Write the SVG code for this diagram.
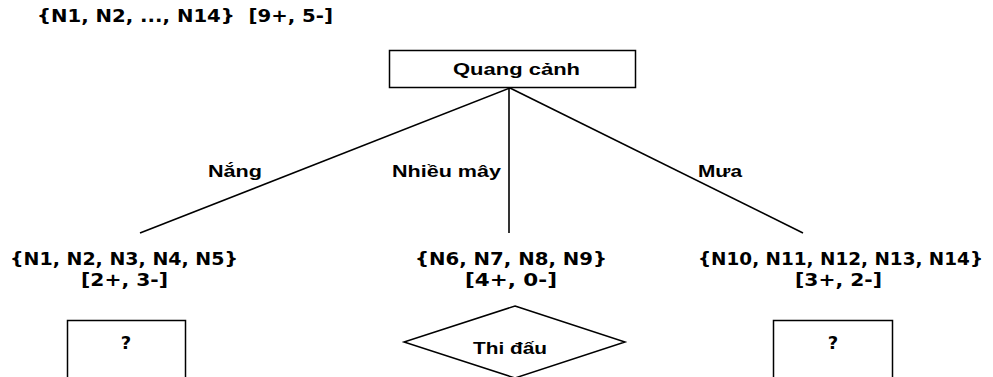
<svg xmlns="http://www.w3.org/2000/svg" width="993" height="377" viewBox="0 0 993 377">
<style>
.set{font-family:"DejaVu Sans",Verdana,sans-serif;font-weight:bold;font-size:18px;fill:#000}
.lbl{font-family:"Liberation Sans",Arial,sans-serif;font-weight:bold;font-size:17px;fill:#000}
.shape{fill:#fff;stroke:#000;stroke-width:1.5}
.edge{stroke:#000;stroke-width:1.6;fill:none}
</style>
<rect width="993" height="377" fill="#fff"/>
<text class="set" x="37" y="22" textLength="296" lengthAdjust="spacingAndGlyphs" xml:space="preserve">{N1, N2, ..., N14}&#160; [9+, 5-]</text>
<g id="connectors">
<line class="edge" x1="510" y1="88" x2="140" y2="233"/>
<line class="edge" x1="509" y1="88" x2="509" y2="233"/>
<line class="edge" x1="510" y1="88" x2="803" y2="233"/>
<text class="lbl" x="208" y="177" textLength="54" lengthAdjust="spacingAndGlyphs">Nắng</text>
<text class="lbl" x="392" y="177" textLength="109" lengthAdjust="spacingAndGlyphs">Nhiều mây</text>
<text class="lbl" x="698" y="177" textLength="44" lengthAdjust="spacingAndGlyphs">Mưa</text>
</g>
<g id="root">
<rect class="shape" x="389.5" y="50.5" width="246" height="37"/>
<text class="lbl" x="453" y="75" textLength="127" lengthAdjust="spacingAndGlyphs">Quang cảnh</text>
</g>
<g id="set-sunny">
<text class="set" x="10" y="265" textLength="228" lengthAdjust="spacingAndGlyphs">{N1, N2, N3, N4, N5}</text>
<text class="set" x="81" y="286" textLength="87" lengthAdjust="spacingAndGlyphs">[2+, 3-]</text>
</g>
<g id="set-cloudy">
<text class="set" x="415" y="265" textLength="192" lengthAdjust="spacingAndGlyphs">{N6, N7, N8, N9}</text>
<text class="set" x="465" y="286" textLength="92" lengthAdjust="spacingAndGlyphs">[4+, 0-]</text>
</g>
<g id="set-rain">
<text class="set" x="698" y="265" textLength="285" lengthAdjust="spacingAndGlyphs">{N10, N11, N12, N13, N14}</text>
<text class="set" x="795" y="286" textLength="87" lengthAdjust="spacingAndGlyphs">[3+, 2-]</text>
</g>
<g id="leaf-sunny">
<rect class="shape" x="67.5" y="320.5" width="118" height="70"/>
<text class="set" x="126" y="349" text-anchor="middle">?</text>
</g>
<g id="leaf-cloudy">
<polygon class="shape" points="515,306 625,342 515,378 404,342"/>
<text class="lbl" x="473" y="354" textLength="74" lengthAdjust="spacingAndGlyphs">Thi đấu</text>
</g>
<g id="leaf-rain">
<rect class="shape" x="773.5" y="320.5" width="119" height="70"/>
<text class="set" x="833" y="349" text-anchor="middle">?</text>
</g>
</svg>
